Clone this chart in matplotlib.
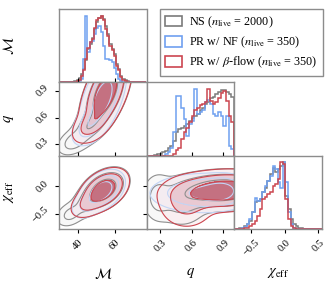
import numpy as np
import matplotlib
matplotlib.use("Agg")
import matplotlib.pyplot as plt
from matplotlib.patches import Patch

plt.rcParams["font.family"] = ["Liberation Serif", "DejaVu Serif"]
plt.rcParams["mathtext.fontset"] = "stix"

# parameter ranges and ticks
mc_range = [30, 77]
q_range = [0.17, 1.0]
chi_range = [-0.76, 0.55]
mc_ticks = [40, 60]
q_ticks = [0.3, 0.6, 0.9]
chi_ticks = [-0.5, 0.0, 0.5]
chi_yticks = [-0.5, 0.0]
mc_ticklabels = ["40", "60"]
q_ticklabels = ["0.3", "0.6", "0.9"]
chi_ticklabels = ["\u22120.5", "0.0", "0.5"]
chi_yticklabels = ["\u22120.5", "0.0"]

# 1D marginals (normalised bin heights)
mc_edges = np.linspace(30, 77, 41)
mc_ns = [0, 0, 0, 0, 0, 0.005, 0.01, 0.02, 0.03, 0.06, 0.12, 0.2, 0.33, 0.5,
         0.58, 0.66, 0.8, 0.9, 0.96, 1.0, 0.95, 0.84, 0.72, 0.58, 0.5, 0.42,
         0.28, 0.2, 0.1, 0.05, 0.03, 0.015, 0.01, 0.005, 0, 0, 0, 0, 0, 0]
mc_nf = [0, 0, 0, 0, 0, 0, 0, 0, 0, 0.02, 0.05, 0.35, 1.0, 0.45, 0.6, 0.62,
         0.72, 0.82, 0.85, 0.75, 0.55, 0.35, 0.35, 0.33, 0.3, 0.22, 0.12,
         0.05, 0.02, 0.01, 0, 0, 0, 0, 0, 0, 0, 0, 0, 0]
mc_bflow = [0, 0, 0, 0, 0, 0, 0.005, 0.01, 0.02, 0.04, 0.1, 0.18, 0.35, 0.52,
            0.6, 0.65, 0.82, 0.93, 0.97, 1.0, 0.93, 0.8, 0.7, 0.55, 0.48, 0.4,
            0.25, 0.18, 0.08, 0.04, 0.02, 0.01, 0, 0, 0, 0, 0, 0, 0, 0]

q_edges = np.linspace(0.17, 1.0, 34)
q_ns = [0, 0, 0, 0.01, 0.02, 0.03, 0.05, 0.07, 0.12, 0.15, 0.22, 0.35, 0.4,
        0.42, 0.44, 0.47, 0.52, 0.56, 0.6, 0.63, 0.68, 0.72, 0.78, 0.8, 0.86,
        0.88, 0.93, 0.96, 0.99, 0.98, 0.96, 0.92, 0.88]
q_nf = [0, 0, 0, 0, 0, 0, 0, 0.02, 0.05, 0.12, 0.35, 0.9, 0.9, 0.72, 0.55,
        0.3, 0.48, 0.52, 1.0, 0.62, 0.65, 0.68, 0.8, 0.83, 0.78, 0.62, 0.6,
        0.65, 0.6, 0.45, 0.6, 0.15, 0.1]
q_bflow = [0, 0, 0, 0, 0, 0, 0, 0, 0, 0, 0.02, 0.08, 0.12, 0.25, 0.35, 0.42,
           0.5, 0.6, 0.68, 0.72, 0.76, 0.78, 0.8, 1.0, 0.82, 0.77, 0.8, 0.87,
           0.94, 0.97, 0.82, 0.6, 0.5]

chi_edges = np.linspace(-0.76, 0.55, 35)
chi_ns = [0, 0, 0.01, 0.02, 0.04, 0.08, 0.12, 0.25, 0.4, 0.42, 0.45, 0.55,
          0.62, 0.72, 0.82, 0.92, 0.85, 0.9, 0.95, 1.0, 0.5, 0.3, 0.15, 0.08,
          0.05, 0.02, 0.01, 0, 0, 0, 0, 0, 0, 0]
chi_nf = [0, 0, 0, 0.01, 0.03, 0.08, 0.15, 0.25, 0.47, 0.42, 0.45, 0.55,
          0.65, 0.72, 0.8, 0.95, 0.9, 0.7, 0.62, 1.0, 0.7, 0.25, 0.07, 0.02,
          0, 0, 0, 0, 0, 0, 0, 0, 0, 0]
chi_bflow = [0, 0, 0, 0, 0.01, 0.02, 0.05, 0.08, 0.12, 0.2, 0.3, 0.45, 0.48,
             0.52, 0.55, 0.65, 0.68, 0.75, 1.0, 0.98, 0.45, 0.15, 0.05, 0.02,
             0, 0, 0, 0, 0, 0, 0, 0, 0, 0]

# 2D posteriors as gaussian components: (mean_x, mean_y, sd_x, sd_y, rho, weight)
mc_q_ns = [(55, 0.88, 5.8, 0.21, 0.55, 0.8), (46, 0.5, 4.5, 0.1, 0.5, 0.12),
           (38, 0.33, 4.0, 0.07, 0.4, 0.08)]
mc_q_nf = [(53.5, 0.82, 5.0, 0.19, 0.55, 0.85), (46, 0.52, 4.0, 0.1, 0.5, 0.15)]
mc_q_bflow = [(55, 0.88, 5.5, 0.2, 0.55, 0.9), (47, 0.52, 4.5, 0.09, 0.5, 0.1)]

mc_chi_ns = [(54, -0.06, 5.2, 0.15, 0.4, 0.82), (45, -0.3, 4.5, 0.13, 0.4, 0.11),
             (36, -0.5, 3.5, 0.1, 0.3, 0.07)]
mc_chi_nf = [(53, -0.08, 4.6, 0.14, 0.4, 0.85), (46, -0.3, 4.0, 0.12, 0.4, 0.15)]
mc_chi_bflow = [(54, -0.065, 5.0, 0.145, 0.4, 0.88), (46, -0.3, 4.5, 0.12, 0.4, 0.12)]

q_chi_ns = [(0.88, -0.07, 0.23, 0.15, 0.1, 0.8), (0.5, -0.3, 0.12, 0.2, 0.0, 0.12),
            (0.28, -0.2, 0.07, 0.2, 0.0, 0.08)]
q_chi_nf = [(0.7, -0.12, 0.2, 0.14, 0.0, 0.7), (0.88, -0.08, 0.1, 0.12, 0.1, 0.3)]
q_chi_bflow = [(0.9, -0.075, 0.22, 0.145, 0.1, 0.85), (0.55, -0.3, 0.12, 0.2, 0.0, 0.15)]

runs = ["ns", "nf", "bflow"]
run_labels = [r"NS ($n_{\rm live}$ = 2000)",
              r"PR w/ NF ($n_{\rm live}$ = 350)",
              r"PR w/ $\beta$-flow ($n_{\rm live}$ = 350)"]
line_colors = {"ns": "#7a7a7a", "nf": "#6fa0f0", "bflow": "#cc4650"}
contour_line_colors = {"ns": "#8f8f8f", "nf": "#c3d5f5", "bflow": "#cc4650"}
fill_colors = {
    "ns": [(0.97, 0.97, 0.97, 0.8), (0.92, 0.92, 0.92, 0.4), (0.85, 0.85, 0.85, 0.4)],
    "nf": [(0.91, 0.93, 0.98, 0.5), (0.84, 0.88, 0.97, 0.5), (0.74, 0.8, 0.95, 0.5)],
    "bflow": [(0.98, 0.91, 0.92, 0.5), (0.92, 0.72, 0.75, 0.65), (0.76, 0.37, 0.43, 0.85)],
}
levels = [0.5, 0.865, 0.98]

hists = {
    "mc": {"ns": mc_ns, "nf": mc_nf, "bflow": mc_bflow},
    "q": {"ns": q_ns, "nf": q_nf, "bflow": q_bflow},
    "chi": {"ns": chi_ns, "nf": chi_nf, "bflow": chi_bflow},
}
edges = {"mc": mc_edges, "q": q_edges, "chi": chi_edges}
pairs = {
    ("mc", "q"): {"ns": mc_q_ns, "nf": mc_q_nf, "bflow": mc_q_bflow},
    ("mc", "chi"): {"ns": mc_chi_ns, "nf": mc_chi_nf, "bflow": mc_chi_bflow},
    ("q", "chi"): {"ns": q_chi_ns, "nf": q_chi_nf, "bflow": q_chi_bflow},
}
ranges = {"mc": mc_range, "q": q_range, "chi": chi_range}
labels = {"mc": r"$\mathcal{M}$", "q": r"$q$", "chi": r"$\chi_{\rm eff}$"}
params = ["mc", "q", "chi"]


def density(X, Y, comps):
    Z = np.zeros_like(X)
    for mx, my, sx, sy, rho, w in comps:
        dx = (X - mx) / sx
        dy = (Y - my) / sy
        r = 1 - rho ** 2
        Z += w / (sx * sy * np.sqrt(r)) * np.exp(-(dx ** 2 - 2 * rho * dx * dy + dy ** 2) / (2 * r))
    return Z


def mass_levels(Z, fracs):
    z = np.sort(Z.ravel())[::-1]
    c = np.cumsum(z)
    c /= c[-1]
    return [z[np.searchsorted(c, f)] for f in fracs]


fig = plt.figure(figsize=(3.36, 2.88), dpi=100)
W, H = 336, 288
col_left = [59, 146.5, 234]
row_top = [9, 82.3, 155.6]
pw, ph = 87.5, 73.3
spine_col = "#8c8c8c"

for i, py in enumerate(params):
    for j, px in enumerate(params):
        if j > i:
            continue
        ax = fig.add_axes([col_left[j] / W, 1 - (row_top[i] + ph) / H, pw / W, ph / H])
        for s in ax.spines.values():
            s.set_color(spine_col)
            s.set_linewidth(1.0)
        if i == j:
            for run in runs:
                ax.stairs(hists[px][run], edges[px], color=line_colors[run], lw=1.1)
            ax.set_ylim(0, 1.1)
            ax.set_yticks([])
            ax.tick_params(axis="x", direction="out", length=3, width=0.8)
        else:
            x = np.linspace(*ranges[px], 200)
            y = np.linspace(*ranges[py], 200)
            X, Y = np.meshgrid(x, y)
            for run in runs:
                Z = density(X, Y, pairs[(px, py)][run])
                lv = sorted(mass_levels(Z, levels))
                ax.contourf(X, Y, Z, levels=lv + [Z.max() * 1.01], colors=fill_colors[run])
                ax.contour(X, Y, Z, levels=lv, colors=contour_line_colors[run], linewidths=0.8)
            ax.tick_params(direction="out", length=3, width=0.8, top=True, right=True)
            ax.set_ylim(ranges[py])
            if py == "q":
                ax.set_yticks(q_ticks)
                ax.set_yticklabels(q_ticklabels)
            else:
                ax.set_yticks(chi_yticks)
                ax.set_yticklabels(chi_yticklabels)
        ax.set_xlim(ranges[px])
        if px == "mc":
            ax.set_xticks(mc_ticks)
            ax.set_xticklabels(mc_ticklabels)
        elif px == "q":
            ax.set_xticks(q_ticks)
            ax.set_xticklabels(q_ticklabels)
        else:
            ax.set_xticks(chi_ticks)
            ax.set_xticklabels(chi_ticklabels)
        if i != 2:
            ax.set_xticklabels([])
        else:
            for t in ax.get_xticklabels():
                t.set_rotation(45)
                t.set_ha("center")
                t.set_va("top")
                t.set_fontsize(7.5)
            ax.set_xlabel(labels[px], fontsize=10.5)
            ax.xaxis.set_label_coords(0.5, -0.5)
        if j != 0 or i == 0:
            ax.set_yticklabels([])
        else:
            for t in ax.get_yticklabels():
                t.set_rotation(45)
                t.set_ha("right")
                t.set_va("center")
                t.set_fontsize(7.5)
        if j == 0:
            ax.set_ylabel(labels[py], fontsize=10.5)
            ax.yaxis.set_label_coords(-0.49, 0.5)

handles = [Patch(facecolor="none", edgecolor=line_colors[r], lw=1.2) for r in runs]
leg = fig.legend(handles, run_labels, loc="upper right",
                 bbox_to_anchor=(323 / W, 1 - 9 / H), borderaxespad=0,
                 fontsize=8.7, fancybox=False, edgecolor="#8c8c8c",
                 framealpha=1, handlelength=1.4, handleheight=1.0,
                 borderpad=0.45, labelspacing=0.4, handletextpad=0.6)
leg.get_frame().set_linewidth(1.0)

fig.savefig("out.png", dpi=100)
